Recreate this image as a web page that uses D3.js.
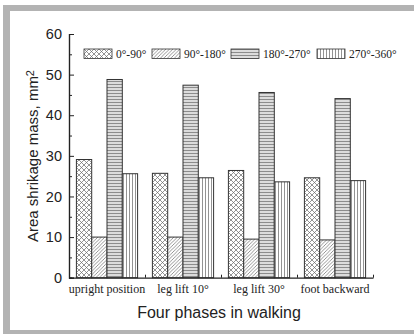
<!DOCTYPE html>
<html>
<head>
<meta charset="utf-8">
<script src="https://cdn.jsdelivr.net/npm/d3@7"></script>
<style>
  body { margin: 0; background: #fff; }
  svg { display: block; }
</style>
</head>
<body>
<svg id="chart" width="414" height="334"></svg>
<script>
// data
var phases = ['upright position', 'leg lift 10°', 'leg lift 30°', 'foot backward'];
var ranges = ['0°-90°', '90°-180°', '180°-270°', '270°-360°'];
var s0to90 = [29.1, 25.7, 26.4, 24.6];
var s90to180 = [10.0, 10.0, 9.5, 9.3];
var s180to270 = [48.8, 47.4, 45.6, 44.1];
var s270to360 = [25.6, 24.6, 23.6, 23.9];
var yTicks = [0, 10, 20, 30, 40, 50, 60];

var series = [s0to90, s90to180, s180to270, s270to360];
var patIds = ['pCross', 'pDiag', 'pHoriz', 'pVert'];

var svg = d3.select('#chart');
// note: "top" is taken by window.top, so use plot* names
var plotLeft = 69, plotRight = 373, plotTop = 34, plotBottom = 277.7;

// gray frame around the figure
svg.append('rect').attr('x', 3).attr('y', 5).attr('width', 411).attr('height', 6).attr('fill', '#b3b3b3');
svg.append('rect').attr('x', 3).attr('y', 5).attr('width', 7).attr('height', 329).attr('fill', '#b3b3b3');
svg.append('rect').attr('x', 3).attr('y', 330).attr('width', 411).attr('height', 4).attr('fill', '#b3b3b3');

// fill patterns
var defs = svg.append('defs');
var pc = defs.append('pattern').attr('id', 'pCross').attr('patternUnits', 'userSpaceOnUse')
  .attr('width', 5).attr('height', 5);
pc.append('rect').attr('width', 5).attr('height', 5).attr('fill', '#fff');
pc.append('path').attr('d', 'M0,0L5,5M5,0L0,5').attr('stroke', '#666').attr('stroke-width', 0.7);

var pd = defs.append('pattern').attr('id', 'pDiag').attr('patternUnits', 'userSpaceOnUse')
  .attr('width', 3.5).attr('height', 3.5);
pd.append('rect').attr('width', 3.5).attr('height', 3.5).attr('fill', '#fff');
pd.append('path').attr('d', 'M-1,4.5L4.5,-1M-1,1L1,-1M2.5,4.5L4.5,2.5')
  .attr('stroke', '#666').attr('stroke-width', 0.7);

var ph = defs.append('pattern').attr('id', 'pHoriz').attr('patternUnits', 'userSpaceOnUse')
  .attr('width', 4).attr('height', 3);
ph.append('rect').attr('width', 4).attr('height', 3).attr('fill', '#dcdcdc');
ph.append('path').attr('d', 'M0,0.5H4').attr('stroke', '#777').attr('stroke-width', 0.8);

var pv = defs.append('pattern').attr('id', 'pVert').attr('patternUnits', 'userSpaceOnUse')
  .attr('width', 3).attr('height', 4);
pv.append('rect').attr('width', 3).attr('height', 4).attr('fill', '#fff');
pv.append('path').attr('d', 'M0.5,0V4').attr('stroke', '#777').attr('stroke-width', 0.8);

// scales
var x0 = d3.scaleBand().domain(phases).range([plotLeft, plotRight]);
var x1 = d3.scaleBand().domain(d3.range(4)).range([7.4, x0.bandwidth() - 7.4]);
var y = d3.scaleLinear().domain([0, 60]).range([plotBottom, plotTop]);

// bars
var groups = svg.append('g').selectAll('g').data(phases).join('g')
  .attr('transform', d => `translate(${x0(d)},0)`);
groups.selectAll('rect')
  .data((d, i) => series.map((s, k) => ({ k: k, v: s[i] })))
  .join('rect')
  .attr('x', d => x1(d.k))
  .attr('y', d => y(d.v))
  .attr('width', x1.bandwidth())
  .attr('height', d => y(0) - y(d.v))
  .attr('fill', d => `url(#${patIds[d.k]})`)
  .attr('stroke', '#333')
  .attr('stroke-width', 1);

// y axis, ticks inward
var yAxis = svg.append('g').attr('transform', `translate(${plotLeft},0)`)
  .call(d3.axisRight(y).tickValues(yTicks).tickSize(5).tickFormat(''));
yAxis.append('g').call(d3.axisRight(y).tickValues(d3.range(5, 60, 10)).tickSize(3).tickFormat(''));
yAxis.selectAll('.domain').attr('stroke', '#222').attr('stroke-width', 1.2);
yAxis.selectAll('line').attr('stroke', '#222');
svg.append('g').selectAll('text').data(yTicks).join('text')
  .attr('x', plotLeft - 7).attr('y', d => y(d)).attr('dy', '0.36em')
  .attr('text-anchor', 'end')
  .style('font-family', 'Liberation Sans, Arial, sans-serif').style('font-size', '14.5px')
  .attr('fill', '#222')
  .text(d => d);

// x axis, small ticks at group boundaries
var xb = d3.scaleLinear().domain([0, 4]).range([plotLeft, plotRight]);
var xAxis = svg.append('g').attr('transform', `translate(0,${plotBottom})`)
  .call(d3.axisTop(xb).tickValues([1, 2, 3, 4]).tickSize(3).tickFormat('').tickSizeOuter(0));
xAxis.selectAll('.domain').attr('stroke', '#222').attr('stroke-width', 1.2);
xAxis.selectAll('line').attr('stroke', '#222');

svg.append('g').selectAll('text').data(phases).join('text')
  .attr('x', d => x0(d) + x0.bandwidth() / 2).attr('y', 293)
  .attr('text-anchor', 'middle')
  .style('font-family', 'Liberation Serif, Times New Roman, serif').style('font-size', '12px')
  .attr('fill', '#222')
  .text(d => d);

// axis titles
svg.append('text').attr('x', 219).attr('y', 318).attr('text-anchor', 'middle')
  .style('font-family', 'Liberation Sans, Arial, sans-serif').style('font-size', '16px')
  .attr('fill', '#222').text('Four phases in walking');

var yl = svg.append('text').attr('transform', 'translate(38,156) rotate(-90)')
  .attr('text-anchor', 'middle')
  .style('font-family', 'Liberation Sans, Arial, sans-serif').style('font-size', '15px')
  .attr('fill', '#222');
yl.append('tspan').text('Area shrikage mass, mm');
yl.append('tspan').attr('dy', '-0.4em').style('font-size', '11px').text('2');

// legend
var legX = [84, 152, 231, 317];
var leg = svg.append('g').selectAll('g').data(ranges).join('g')
  .attr('transform', (d, i) => `translate(${legX[i]},49)`);
leg.append('rect').attr('width', 28).attr('height', 9.5)
  .attr('fill', (d, i) => `url(#${patIds[i]})`)
  .attr('stroke', '#333').attr('stroke-width', 0.8);
leg.append('text').attr('x', 32).attr('y', 9)
  .style('font-family', 'Liberation Serif, Times New Roman, serif').style('font-size', '11.5px')
  .attr('fill', '#222')
  .text(d => d);
</script>
</body>
</html>
